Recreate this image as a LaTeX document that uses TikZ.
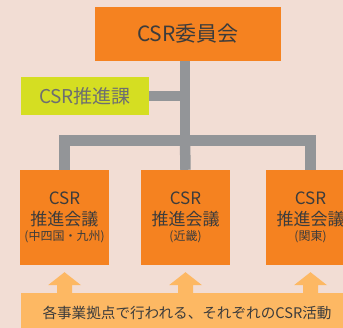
\documentclass[tikz,border=0pt]{standalone}
\usepackage{fontspec}
\setmainfont{Noto Sans CJK JP}
\definecolor{bg}{HTML}{F2DDD4}
\definecolor{csrorange}{HTML}{F58220}
\definecolor{lime}{HTML}{D5DE22}
\definecolor{connector}{HTML}{939598}
\definecolor{lightorange}{HTML}{FDB863}
\definecolor{txt}{HTML}{3C3C3C}
\definecolor{graytxt}{HTML}{6D6E71}
\tikzset{
  orangebox/.style={fill=csrorange, draw=none, inner sep=0pt, align=center, text=txt},
  regionbox/.style={orangebox, minimum width=89pt, minimum height=95pt, font=\fontsize{17}{21}\selectfont},
  limebox/.style={fill=lime, draw=none, inner sep=0pt, text=graytxt},
  link/.style={draw=connector, line width=10.5pt},
  uparrow/.style={fill=lightorange, draw=none},
}
\newcommand{\regiontext}[1]{CSR\\推進会議\\[-6pt]{\fontsize{12}{15}\selectfont #1}}
\begin{document}
\begin{tikzpicture}[x=1pt,y=-1pt]
\useasboundingbox (0,0) rectangle (343,328);
\clip (0,0) rectangle (343,328);
\fill[bg] (0,0) rectangle (343,328);
% nodes
\node[orangebox, minimum width=186pt, minimum height=54pt, font=\fontsize{21}{24}\selectfont] (top) at (188,34) {CSR委員会};
\node[limebox, minimum width=128pt, minimum height=38pt, font=\fontsize{19}{22}\selectfont] (promo) at (85,96) {CSR推進課};
\node[regionbox] (b1) at (64.5,217.5) {\regiontext{(中四国・九州)}};
\node[regionbox] (b2) at (185.5,217.5) {\regiontext{(近畿)}};
\node[regionbox] (b3) at (310.5,217.5) {\regiontext{(関東)}};
\node[fill=lightorange, draw=none, inner sep=0pt, minimum width=332pt, minimum height=40pt, text=txt, font=\fontsize{14.6}{17}\selectfont] (act) at (187,313) {各事業拠点で行われる、それぞれのCSR活動};
% connectors
\coordinate (trunk) at (185,140.5);
\coordinate (lbar) at (64.5,140.5);
\coordinate (rbar) at (310.5,140.5);
\draw[link] (top.south -| trunk) -- (trunk);
\draw[link] (promo.east) -- (promo.east -| trunk);
\draw[link] ([xshift=-5.25pt]lbar) -- ([xshift=5.25pt]rbar);
\draw[link] ([yshift=-5.25pt]lbar) -- (b1.north);
\draw[link] (trunk) -- (b2.north);
\draw[link] ([yshift=-5.25pt]rbar) -- (b3.north);
% arrows
\foreach \n in {b1,b2,b3}{
  \fill[uparrow] ([yshift=-7pt]\n.south) -- ++(16.5,13) -- ++(-9,0) -- ++(0,9) -- ++(-15,0) -- ++(0,-9) -- ++(-9,0) -- cycle;
}
\end{tikzpicture}
\end{document}
